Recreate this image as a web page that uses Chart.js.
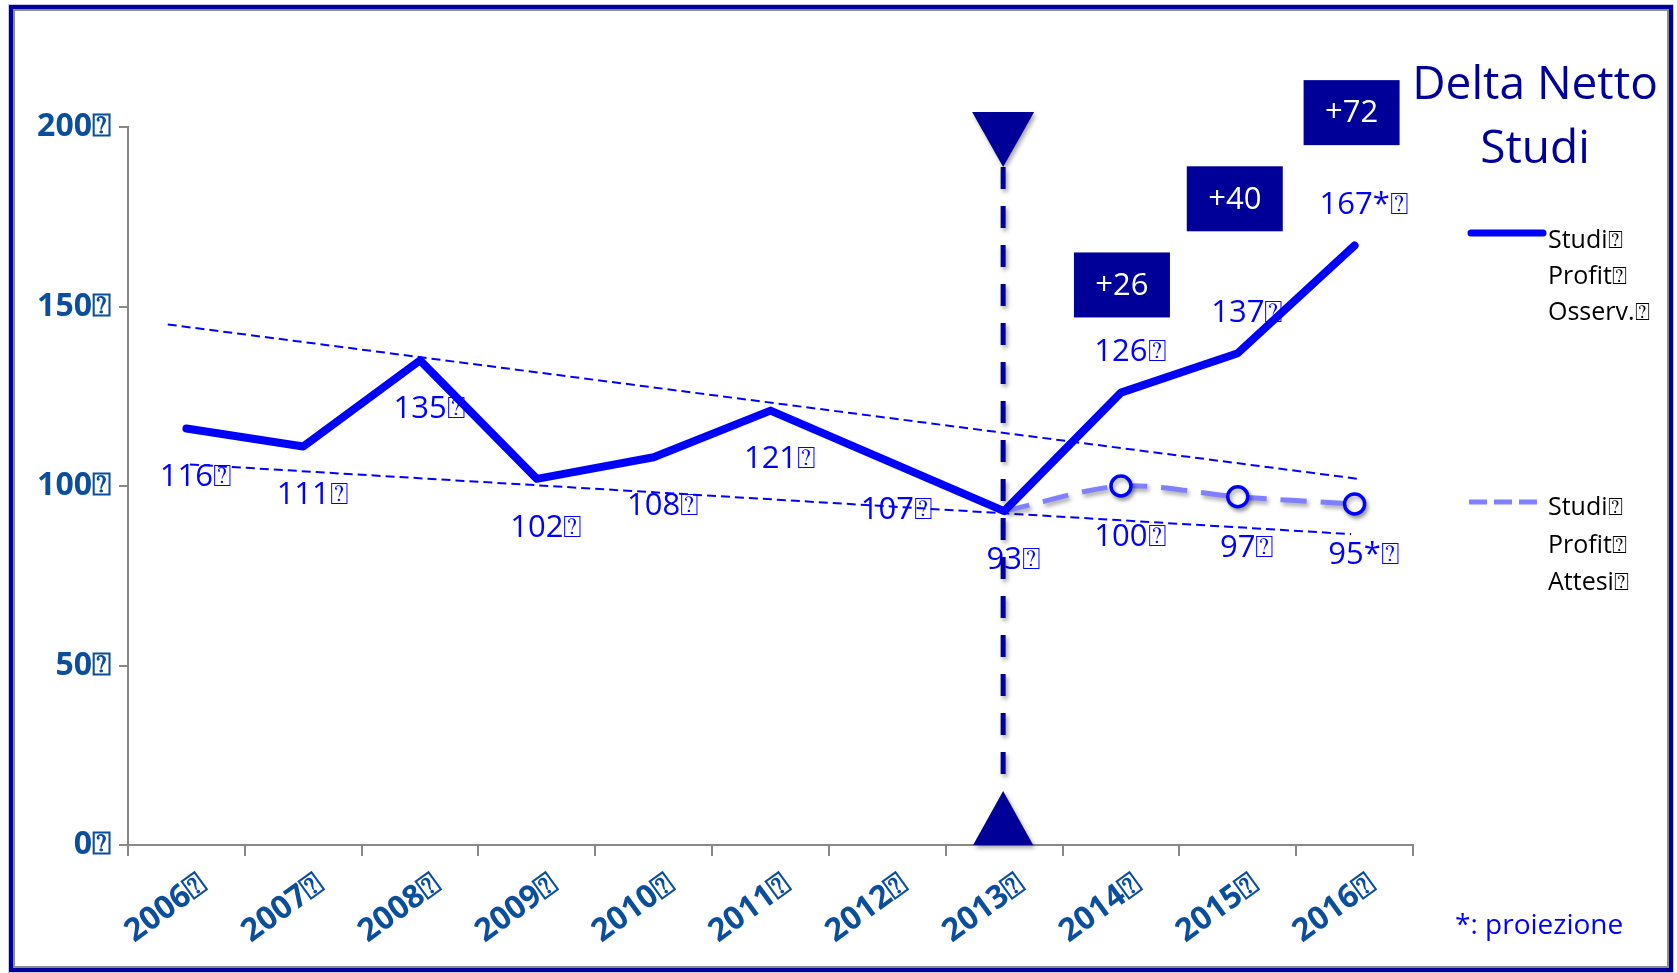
<!DOCTYPE html>
<html>
<head>
<meta charset="utf-8">
<script src="https://cdn.jsdelivr.net/npm/chart.js@4/dist/chart.umd.min.js"></script>
<style>
  html, body { margin: 0; padding: 0; background: #fff; }
  #wrap { position: relative; width: 1677px; height: 973px; overflow: hidden; }
  #chart { position: absolute; left: 0; top: 0; }
  #frame {
    position: absolute; left: 9px; top: 5px; width: 1664px; height: 967px;
    box-sizing: border-box; border: 4px solid #000099;
    box-shadow: inset 0 0 0 2px #8c8c8c, 0 0 0 1px #c8c8ee;
    pointer-events: none;
  }
</style>
</head>
<body>
<div id="wrap">
  <canvas id="chart" width="1677" height="973"></canvas>
  <div id="frame"></div>
</div>
<script>
// data
const years = ['2006', '2007', '2008', '2009', '2010', '2011', '2012', '2013', '2014', '2015', '2016'];
const observed = [116, 111, 135, 102, 108, 121, 107, 93, 126, 137, 167];
const expected = [null, null, null, null, null, null, null, 93, 100, 97, 95];
const observedLabels = ['116', '111', '135', '102', '108', '121', '107', '93', '126', '137', '167*'];
const expectedLabels = [null, null, null, null, null, null, null, null, '100', '97', '95*'];
const upperTrend = [{ x: -0.16, y: 145 }, { x: 10.03, y: 102 }];
const lowerTrend = [{ x: 0.03, y: 106 }, { x: 9.97, y: 86.6 }];
const deltaYears = ['2014', '2015', '2016'];
const deltaLabels = ['+26', '+40', '+72'];
const yTicks = [0, 50, 100, 150, 200];
const markerYear = '2013';
const legendObserved = ['Studi', 'Profit', 'Osserv.'];
const legendExpected = ['Studi', 'Profit', 'Attesi'];
const titleLines = ['Delta Netto', 'Studi'];
const footnote = '*: proiezione';
const BOX = '\u2370';

const FONT = "'Open Sans', 'Noto Sans', sans-serif";
const BLUE = '#0000ff';
const NAVY = '#000099';
const AXIS_TXT = '#0b4f9c';

// badge placement (value units / pixel nudges)
const deltaBoxLevels = [156, 180, 204];
const deltaBoxDx = [1, -3, -3];

function textWithBox(ctx, str, cx, cy) {
  const w = ctx.measureText(str).width;
  ctx.textAlign = 'left';
  ctx.fillText(str, cx - w / 2, cy);
  ctx.fillText(BOX, cx + w / 2, cy);
}

function shadow(ctx) {
  ctx.shadowColor = 'rgba(0,0,0,0.35)';
  ctx.shadowBlur = 4;
  ctx.shadowOffsetX = 2;
  ctx.shadowOffsetY = 3;
}

const overlay = {
  id: 'overlay',
  beforeDatasetDraw(chart, args) {
    if (args.index === 1) {
      chart.ctx.save();
      shadow(chart.ctx);
    }
  },
  afterDatasetDraw(chart, args) {
    if (args.index === 1) chart.ctx.restore();
  },
  afterDatasetsDraw(chart) {
    const ctx = chart.ctx;
    const x = chart.scales.x, y = chart.scales.y;
    ctx.save();
    ctx.fillStyle = BLUE;
    ctx.font = '31px ' + FONT;
    ctx.textBaseline = 'middle';
    observed.forEach((v, i) => {
      const px = x.getPixelForValue(i), py = y.getPixelForValue(v);
      const dy = i >= 8 ? -40 : 49;
      textWithBox(ctx, observedLabels[i], px, py + dy);
    });
    expected.forEach((v, i) => {
      if (!expectedLabels[i]) return;
      const px = x.getPixelForValue(i), py = y.getPixelForValue(v);
      textWithBox(ctx, expectedLabels[i], px, py + 51);
    });

    // vertical marker line with triangles
    const mx = x.getPixelForValue(years.indexOf(markerYear)) - 1;
    const top = chart.chartArea.top, bottom = chart.chartArea.bottom;
    shadow(ctx);
    ctx.strokeStyle = NAVY;
    ctx.lineWidth = 5;
    ctx.setLineDash([22, 17]);
    ctx.beginPath();
    ctx.moveTo(mx, top + 40);
    ctx.lineTo(mx, bottom - 54);
    ctx.stroke();
    ctx.setLineDash([]);
    ctx.fillStyle = NAVY;
    ctx.beginPath();
    ctx.moveTo(mx - 31, top - 15);
    ctx.lineTo(mx + 31, top - 15);
    ctx.lineTo(mx, top + 40);
    ctx.closePath();
    ctx.fill();
    ctx.beginPath();
    ctx.moveTo(mx - 30, bottom);
    ctx.lineTo(mx + 30, bottom);
    ctx.lineTo(mx, bottom - 54);
    ctx.closePath();
    ctx.fill();
    ctx.restore();

    // delta badges
    ctx.save();
    deltaYears.forEach((yr, k) => {
      const cx = x.getPixelForValue(years.indexOf(yr)) + deltaBoxDx[k];
      const cy = y.getPixelForValue(deltaBoxLevels[k]);
      ctx.fillStyle = NAVY;
      ctx.fillRect(cx - 48, cy - 32.5, 96, 65);
      ctx.fillStyle = '#fff';
      ctx.font = '31px ' + FONT;
      ctx.textAlign = 'center';
      ctx.textBaseline = 'middle';
      ctx.fillText(deltaLabels[k], cx, cy + 1);
    });
    ctx.restore();
  },
  afterDraw(chart) {
    const ctx = chart.ctx;
    ctx.save();
    // title
    ctx.fillStyle = NAVY;
    ctx.font = '46px ' + FONT;
    ctx.textAlign = 'center';
    ctx.textBaseline = 'middle';
    ctx.fillText(titleLines[0], 1535, 86);
    ctx.fillText(titleLines[1], 1535, 150);

    // legend
    ctx.lineCap = 'round';
    ctx.strokeStyle = BLUE;
    ctx.lineWidth = 7;
    ctx.beginPath();
    ctx.moveTo(1471, 233);
    ctx.lineTo(1543, 233);
    ctx.stroke();
    ctx.lineCap = 'butt';
    ctx.strokeStyle = '#8080ff';
    ctx.lineWidth = 5;
    ctx.setLineDash([18, 7]);
    ctx.beginPath();
    ctx.moveTo(1469, 502);
    ctx.lineTo(1537, 502);
    ctx.stroke();
    ctx.setLineDash([]);
    ctx.fillStyle = '#000';
    ctx.font = '25px ' + FONT;
    ctx.textAlign = 'left';
    legendObserved.forEach((s, i) => {
      ctx.fillText(s + BOX, 1548, 241 + i * 36);
    });
    legendExpected.forEach((s, i) => {
      ctx.fillText(s + BOX, 1548, 508 + i * 37.5);
    });

    // footnote
    ctx.fillStyle = BLUE;
    ctx.font = '28px ' + FONT;
    ctx.fillText(footnote, 1455, 926);
    ctx.restore();
  }
};

new Chart(document.getElementById('chart'), {
  type: 'line',
  data: {
    labels: years,
    datasets: [
      {
        data: observed,
        borderColor: BLUE,
        borderWidth: 8,
        borderCapStyle: 'round',
        borderJoinStyle: 'round',
        pointRadius: 0,
        tension: 0,
        order: 0
      },
      {
        data: expected,
        borderColor: '#8080ff',
        borderWidth: 5,
        borderDash: [26, 14],
        pointRadius: ctx => ctx.dataIndex > 7 ? 10 : 0,
        pointBorderWidth: 3.5,
        pointBorderColor: BLUE,
        pointBackgroundColor: '#fff',
        tension: 0.3,
        order: 1
      },
      {
        data: upperTrend,
        xAxisID: 'xt',
        borderColor: BLUE,
        borderWidth: 2,
        borderDash: [9, 5],
        pointRadius: 0,
        order: 2
      },
      {
        data: lowerTrend,
        xAxisID: 'xt',
        borderColor: BLUE,
        borderWidth: 2,
        borderDash: [9, 5],
        pointRadius: 0,
        order: 3
      }
    ]
  },
  options: {
    responsive: false,
    animation: false,
    layout: { padding: { left: 0, top: 127, right: 264, bottom: 0 } },
    plugins: { legend: { display: false }, tooltip: { enabled: false } },
    scales: {
      x: {
        offset: true,
        grid: { offset: true, drawOnChartArea: false, tickLength: 11, color: '#888', lineWidth: 2 },
        border: { color: '#888', width: 2 },
        ticks: {
          color: AXIS_TXT,
          font: { family: FONT, size: 32, weight: 'bold' },
          minRotation: 36, maxRotation: 36,
          labelOffset: 17,
          padding: 10,
          autoSkip: false,
          callback: function (v, i) { return years[i] + BOX; }
        },
        afterFit: s => { s.height = 128; }
      },
      xt: {
        type: 'linear', display: false, min: -0.5, max: 10.5
      },
      y: {
        min: 0, max: 200,
        afterBuildTicks: s => { s.ticks = yTicks.map(v => ({ value: v })); },
        grid: { drawOnChartArea: false, tickLength: 9, color: '#888', lineWidth: 2 },
        border: { color: '#888', width: 2 },
        ticks: {
          color: AXIS_TXT,
          font: { family: FONT, size: 32, weight: 'bold' },
          padding: 8,
          callback: v => v + BOX
        },
        afterFit: s => { s.width = 128; }
      }
    }
  },
  plugins: [overlay]
});
</script>
</body>
</html>
